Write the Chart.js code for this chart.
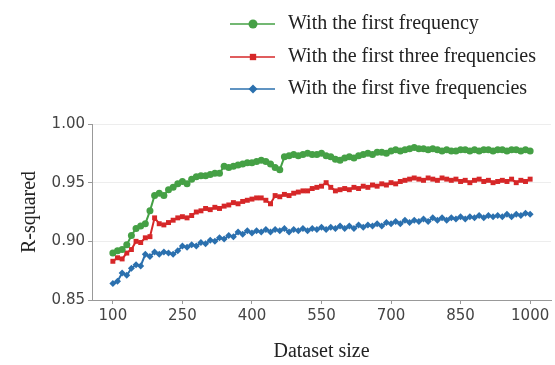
<!DOCTYPE html>
<html lang="en">
<head>
    <meta charset="UTF-8">
    <script src="https://cdn.jsdelivr.net/npm/chart.js"></script>
    <title>R-squared vs dataset size</title>
    <style>
        body { margin: 0; background: #fff; }
        #wrap { width: 555px; height: 365px; }
    </style>
</head>
<body>
    <div id="wrap"><canvas id="chart-r2"></canvas></div>

<script>
    // dataset sizes (x)
    const sizes = [100, 110, 120, 130, 140, 150, 160, 170, 180, 190,
        200, 210, 220, 230, 240, 250, 260, 270, 280, 290,
        300, 310, 320, 330, 340, 350, 360, 370, 380, 390,
        400, 410, 420, 430, 440, 450, 460, 470, 480, 490,
        500, 510, 520, 530, 540, 550, 560, 570, 580, 590,
        600, 610, 620, 630, 640, 650, 660, 670, 680, 690,
        700, 710, 720, 730, 740, 750, 760, 770, 780, 790,
        800, 810, 820, 830, 840, 850, 860, 870, 880, 890,
        900, 910, 920, 930, 940, 950, 960, 970, 980, 990, 1000];

    const firstFreq = [0.890, 0.892, 0.893, 0.897, 0.905, 0.911, 0.913, 0.915, 0.926, 0.939,
        0.941, 0.939, 0.944, 0.946, 0.949, 0.951, 0.949, 0.953, 0.955, 0.956,
        0.956, 0.957, 0.958, 0.958, 0.964, 0.963, 0.964, 0.965, 0.966, 0.967,
        0.967, 0.968, 0.969, 0.968, 0.966, 0.963, 0.961, 0.972, 0.973, 0.974,
        0.973, 0.974, 0.975, 0.974, 0.974, 0.975, 0.973, 0.972, 0.970, 0.969,
        0.971, 0.972, 0.971, 0.973, 0.974, 0.975, 0.974, 0.976, 0.976, 0.975,
        0.977, 0.978, 0.977, 0.978, 0.979, 0.980, 0.979, 0.979, 0.978, 0.979,
        0.978, 0.977, 0.978, 0.977, 0.977, 0.978, 0.978, 0.977, 0.978, 0.977,
        0.978, 0.978, 0.977, 0.978, 0.978, 0.977, 0.978, 0.978, 0.977, 0.978, 0.977];

    const firstThree = [0.883, 0.886, 0.885, 0.890, 0.893, 0.900, 0.899, 0.903, 0.904, 0.920,
        0.915, 0.914, 0.916, 0.918, 0.920, 0.921, 0.920, 0.922, 0.925, 0.926,
        0.928, 0.927, 0.929, 0.928, 0.930, 0.931, 0.933, 0.932, 0.934, 0.935,
        0.936, 0.937, 0.937, 0.935, 0.932, 0.939, 0.938, 0.940, 0.939, 0.941,
        0.942, 0.943, 0.943, 0.945, 0.946, 0.947, 0.950, 0.946, 0.943, 0.944,
        0.945, 0.944, 0.946, 0.945, 0.947, 0.946, 0.948, 0.947, 0.949, 0.948,
        0.950, 0.949, 0.951, 0.952, 0.953, 0.954, 0.953, 0.952, 0.954, 0.953,
        0.952, 0.954, 0.953, 0.952, 0.953, 0.951, 0.952, 0.950, 0.952, 0.953,
        0.951, 0.952, 0.950, 0.951, 0.952, 0.951, 0.953, 0.950, 0.952, 0.951, 0.953];

    const firstFive = [0.864, 0.866, 0.873, 0.871, 0.877, 0.880, 0.879, 0.889, 0.887, 0.891,
        0.889, 0.891, 0.890, 0.889, 0.892, 0.896, 0.895, 0.897, 0.896, 0.899,
        0.898, 0.901, 0.900, 0.903, 0.902, 0.905, 0.904, 0.908, 0.906, 0.909,
        0.907, 0.909, 0.908, 0.910, 0.908, 0.910, 0.909, 0.911, 0.908, 0.910,
        0.909, 0.911, 0.909, 0.911, 0.910, 0.912, 0.910, 0.912, 0.911, 0.913,
        0.911, 0.913, 0.911, 0.914, 0.912, 0.914, 0.913, 0.915, 0.913, 0.916,
        0.915, 0.917, 0.915, 0.918, 0.916, 0.918, 0.917, 0.919, 0.917, 0.920,
        0.918, 0.920, 0.918, 0.920, 0.919, 0.921, 0.919, 0.921, 0.920, 0.922,
        0.920, 0.922, 0.921, 0.922, 0.921, 0.923, 0.921, 0.923, 0.922, 0.924, 0.923];

    const seriesNames = ['With the first frequency', 'With the first three frequencies', 'With the first five frequencies'];
    const xTicks = [100, 250, 400, 550, 700, 850, 1000];
    const yTicks = [0.85, 0.90, 0.95, 1.00];

    const colors = ['#45a045', '#d62728', '#2b70ae'];
    const markers = ['circle', 'rect', 'rectRot'];

    function pts(vals) {
        return sizes.map((s, i) => ({ x: s, y: vals[i] }));
    }

    // legend with a line sample and marker, drawn above the plot
    const lineLegend = {
        id: 'lineLegend',
        afterDraw(chart) {
            const ctx = chart.ctx;
            const rows = [24, 57, 89];
            ctx.save();
            chart.data.datasets.forEach((ds, i) => {
                const y = rows[i];
                ctx.strokeStyle = ds.borderColor;
                ctx.lineWidth = 1.5;
                ctx.beginPath();
                ctx.moveTo(230, y);
                ctx.lineTo(275, y);
                ctx.stroke();
                ctx.fillStyle = ds.borderColor;
                Chart.helpers.drawPoint(ctx, { pointStyle: ds.pointStyle, radius: 4.5, borderWidth: 0 }, 253, y);
                ctx.fillStyle = '#222';
                ctx.font = '20px "Liberation Serif"';
                ctx.textBaseline = 'middle';
                ctx.fillText(ds.label, 288, y);
            });
            ctx.restore();
        }
    };

    const ctxR2 = document.getElementById('chart-r2');

    new Chart(ctxR2, {
        type: 'line',
        data: {
            datasets: [0, 1, 2].map(i => ({
                label: seriesNames[i],
                data: pts([firstFreq, firstThree, firstFive][i]),
                borderColor: colors[i],
                backgroundColor: colors[i],
                borderWidth: 2,
                pointStyle: markers[i],
                pointRadius: 3.5,
                pointBorderWidth: 0,
                fill: false,
                tension: 0
            }))
        },
        options: {
            responsive: true,
            maintainAspectRatio: false,
            animation: false,
            layout: {
                padding: { top: 124, left: 0, right: 2, bottom: 0 }
            },
            plugins: {
                legend: { display: false },
                tooltip: { enabled: false }
            },
            scales: {
                x: {
                    type: 'linear',
                    min: 55,
                    max: 1045,
                    afterBuildTicks: s => { s.ticks = xTicks.map(v => ({ value: v })); },
                    afterFit: s => { s.height = 65; },
                    grid: { drawOnChartArea: false, tickLength: 4, tickColor: '#999' },
                    border: { color: '#999' },
                    ticks: {
                        font: { family: 'DejaVu Sans', size: 15 },
                        color: '#444',
                        padding: 3,
                        maxRotation: 0,
                        callback: v => String(v)
                    },
                    title: {
                        display: true,
                        text: 'Dataset size',
                        font: { family: 'Liberation Serif', size: 20 },
                        color: '#222',
                        padding: { top: 0, bottom: 1 }
                    }
                },
                y: {
                    min: 0.85,
                    max: 1.00,
                    afterBuildTicks: s => { s.ticks = yTicks.map(v => ({ value: v })); },
                    afterFit: s => { s.width = 92; },
                    grid: { color: '#ededed', tickLength: 4, tickColor: '#999' },
                    border: { color: '#999' },
                    ticks: {
                        font: { family: 'DejaVu Sans', size: 15 },
                        color: '#444',
                        padding: 3,
                        callback: v => v.toFixed(2)
                    },
                    title: {
                        display: true,
                        text: 'R-squared',
                        font: { family: 'Liberation Serif', size: 20 },
                        color: '#222',
                        padding: { top: 18, bottom: 0 }
                    }
                }
            }
        },
        plugins: [lineLegend]
    });
</script>
</body>
</html>
